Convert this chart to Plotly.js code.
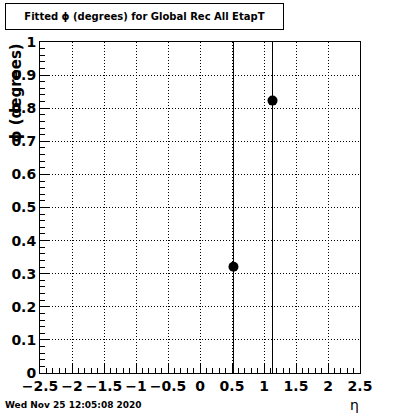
<!DOCTYPE html>
<html>
<head>
<meta charset="utf-8">
<script src="https://cdn.plot.ly/plotly-3.0.1.min.js"></script>
<style>html,body{margin:0;padding:0;background:#fff;}#chart{width:400px;height:414px;}</style>
</head>
<body>
<div id="chart"></div>
<script>
// Data
const etaValues = [0.523, 1.133];
const phiValues = [0.321, 0.823];
const phiErrors = [2.0, 2.0];
const xTickVals = [-2.5, -2, -1.5, -1, -0.5, 0, 0.5, 1, 1.5, 2, 2.5];
const xTickText = ['\u22122.5', '\u22122', '\u22121.5', '\u22121', '\u22120.5', '0', '0.5', '1', '1.5', '2', '2.5'];
const yTickVals = [0, 0.1, 0.2, 0.3, 0.4, 0.5, 0.6, 0.7, 0.8, 0.9, 1];
const yTickText = ['0', '0.1', '0.2', '0.3', '0.4', '0.5', '0.6', '0.7', '0.8', '0.9', '1'];

const tickFont = {family: 'DejaVu Sans', size: 14, color: '#000', weight: 'bold'};

const trace = {
  x: etaValues,
  y: phiValues,
  type: 'scatter',
  mode: 'markers',
  marker: {color: '#000', size: 10, symbol: 'circle'},
  error_y: {type: 'data', array: phiErrors, visible: true, color: '#000', thickness: 1, width: 0},
  cliponaxis: true,
  hoverinfo: 'skip'
};

const axisCommon = {
  showline: true, linecolor: '#000', linewidth: 1, mirror: true,
  ticks: 'inside', ticklen: 9, tickcolor: '#000', tickwidth: 1,
  showgrid: true, gridcolor: '#000', gridwidth: 1, griddash: '1px,2px',
  zeroline: false, tickfont: tickFont, tickmode: 'array'
};

const layout = {
  width: 400, height: 414,
  margin: {l: 40, r: 40, t: 42, b: 41, pad: 0},
  paper_bgcolor: '#fff', plot_bgcolor: '#fff',
  showlegend: false,
  xaxis: Object.assign({}, axisCommon, {
    range: [-2.5, 2.5], tickvals: xTickVals, ticktext: xTickText,
    minor: {dtick: 0.1, ticks: 'inside', ticklen: 5, tickcolor: '#000', showgrid: false}
  }),
  yaxis: Object.assign({}, axisCommon, {
    range: [0, 1], tickvals: yTickVals, ticktext: yTickText,
    minor: {dtick: 0.02, ticks: 'inside', ticklen: 5, tickcolor: '#000', showgrid: false}
  }),
  annotations: [
    {
      text: 'Fitted \u03d5 (degrees) for Global Rec All EtapT',
      xref: 'paper', yref: 'paper', x: 0.3266, y: 1.077,
      xanchor: 'center', yanchor: 'middle', showarrow: false,
      width: 277, height: 25, borderpad: 0,
      bordercolor: '#000', borderwidth: 1, bgcolor: '#fff',
      font: {family: 'DejaVu Sans', size: 10, color: '#000', weight: 'bold'}
    },
    {
      text: '\u03d5 (degrees)',
      xref: 'paper', yref: 'paper', x: -0.078, y: 1.0,
      xanchor: 'center', yanchor: 'top', showarrow: false, textangle: -90,
      font: {family: 'DejaVu Sans', size: 15, color: '#000', weight: 'bold'}
    },
    {
      text: 'Wed Nov 25 12:05:08 2020',
      xref: 'paper', yref: 'paper', x: -0.116, y: -0.098,
      xanchor: 'left', yanchor: 'middle', showarrow: false,
      font: {family: 'DejaVu Sans', size: 9, color: '#000', weight: 'bold'}
    },
    {
      text: '\u03b7',
      xref: 'paper', yref: 'paper', x: 0.984, y: -0.098,
      xanchor: 'center', yanchor: 'middle', showarrow: false,
      font: {family: 'DejaVu Sans', size: 14, color: '#000'}
    }
  ]
};

Plotly.newPlot('chart', [trace], layout, {displayModeBar: false, staticPlot: true});
</script>
</body>
</html>
